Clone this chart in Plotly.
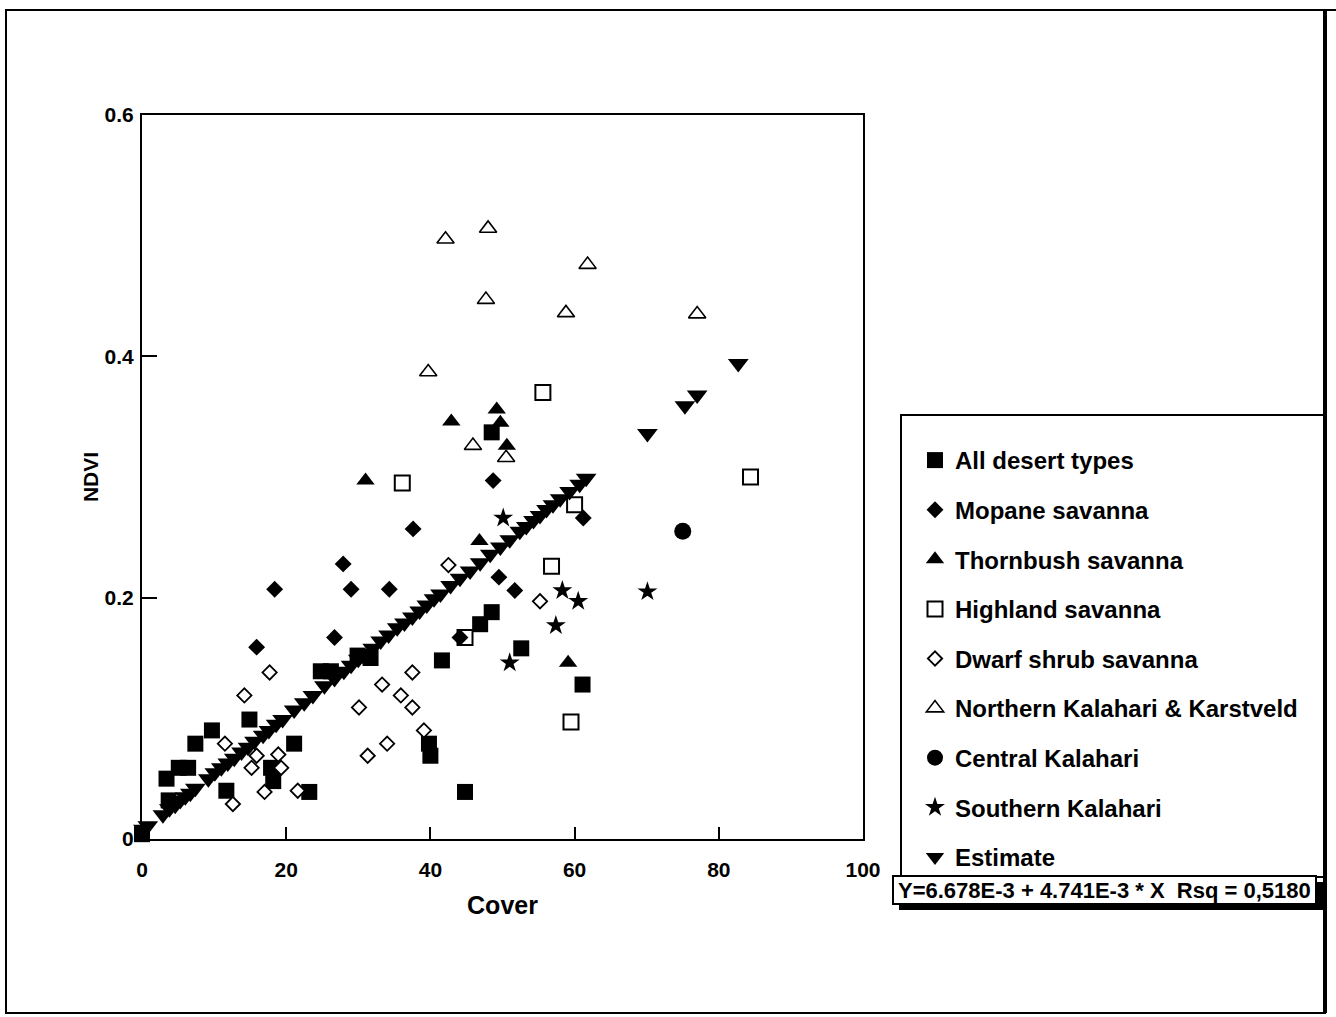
import plotly.graph_objects as go

# ---------------- data ----------------
desert_x = [0.0, 3.4, 3.7, 5.1, 6.4, 7.4, 9.7, 14.9, 11.7, 17.9, 18.2, 21.1, 23.2,
            24.8, 26.2, 29.9, 31.7, 41.6, 39.8, 40.0, 44.8, 46.9, 48.5, 48.5, 52.6, 61.1]
desert_y = [0.004, 0.050, 0.032, 0.059, 0.059, 0.079, 0.090, 0.099, 0.040, 0.059, 0.048, 0.079, 0.039,
            0.139, 0.139, 0.152, 0.150, 0.148, 0.079, 0.069, 0.039, 0.178, 0.188, 0.337, 0.158, 0.128]

mopane_x = [18.4, 29.0, 34.3, 27.9, 15.9, 26.7, 44.1, 48.7, 37.6, 49.5, 51.7, 61.2]
mopane_y = [0.207, 0.207, 0.207, 0.228, 0.159, 0.167, 0.167, 0.297, 0.257, 0.217, 0.206, 0.266]

thorn_x = [31.0, 42.9, 49.2, 49.7, 50.6, 46.8, 59.1]
thorn_y = [0.297, 0.346, 0.356, 0.345, 0.326, 0.247, 0.146]

highland_x = [36.1, 55.6, 84.4, 60.0, 56.8, 44.8, 59.5]
highland_y = [0.295, 0.370, 0.300, 0.277, 0.226, 0.167, 0.097]

dwarf_x = [17.7, 14.2, 11.5, 15.9, 15.2, 18.9, 19.3, 12.6, 17.0, 21.6,
           37.5, 33.3, 30.1, 35.9, 37.5, 39.1, 34.0, 31.3, 42.5, 55.2]
dwarf_y = [0.138, 0.119, 0.079, 0.069, 0.059, 0.070, 0.059, 0.029, 0.039, 0.040,
           0.138, 0.128, 0.109, 0.119, 0.109, 0.090, 0.079, 0.069, 0.227, 0.197]

north_x = [42.1, 48.0, 61.8, 47.7, 58.8, 77.0, 39.7, 45.9, 50.5]
north_y = [0.497, 0.506, 0.476, 0.447, 0.436, 0.435, 0.387, 0.326, 0.316]

central_x = [75.0]
central_y = [0.255]

south_x = [50.1, 58.3, 60.5, 70.1, 57.4, 51.0]
south_y = [0.266, 0.206, 0.197, 0.205, 0.177, 0.146]

est_x = [0.2, 0.8, 2.9, 3.8, 4.6, 5.3, 6.0, 6.7, 7.4, 9.2, 10.1, 11.0, 11.9, 12.8, 13.8,
         14.7, 15.6, 16.8, 17.6, 18.6, 19.5, 21.1, 22.5, 23.7, 25.3, 26.7, 28.0, 29.0,
         30.0, 31.0, 32.0, 33.1, 34.2, 35.4, 36.4, 37.5, 38.5, 39.5, 40.5, 41.4, 42.8,
         44.1, 45.5, 46.9, 48.3, 49.7, 51.0, 52.4, 53.3, 54.3, 55.2, 56.1, 57.0, 58.0,
         59.3, 60.7, 61.6, 70.1, 75.3, 77.0, 82.7]
est_y = [0.008, 0.011, 0.020, 0.025, 0.028, 0.032, 0.035, 0.038, 0.042, 0.050, 0.055, 0.059,
         0.063, 0.067, 0.072, 0.076, 0.081, 0.086, 0.090, 0.095, 0.099, 0.107, 0.113, 0.119,
         0.127, 0.133, 0.139, 0.144, 0.149, 0.154, 0.158, 0.164, 0.169, 0.175, 0.179, 0.184,
         0.189, 0.194, 0.199, 0.203, 0.210, 0.216, 0.222, 0.229, 0.236, 0.242, 0.248, 0.255,
         0.259, 0.264, 0.268, 0.273, 0.277, 0.282, 0.288, 0.294, 0.299, 0.336, 0.359, 0.368,
         0.394]

x_ticks = [0, 20, 40, 60, 80, 100]
y_ticks = [0, 0.2, 0.4, 0.6]
fit_text = "Y=6.678E-3 + 4.741E-3 * X &nbsp;Rsq = 0,5180"

# ---------------- layout geometry ----------------
W, H = 1336, 1017
L, R, T, B = 142, 473, 115, 178
PW = W - L - R
PH = H - T - B


def px(xp):
    return (xp - L) / PW


def py(yp):
    return (H - B - yp) / PH


FONT = "Liberation Sans, Arial, sans-serif"

fig = go.Figure()


def add(name, xs, ys, symbol, size, color, lw, lc, rank):
    fig.add_trace(go.Scatter(
        x=xs, y=ys, mode="markers", name=name,
        legendgroup=name, legendrank=rank,
        marker=dict(symbol=symbol, size=size, color=color,
                    line=dict(width=lw, color=lc)),
        cliponaxis=False,
    ))


# drawing order (legend order fixed by legendrank)
add("Highland savanna", highland_x, highland_y, "square", 15, "white", 2, "black", 4)
add("All desert types", desert_x, desert_y, "square", 16, "black", 0, "black", 1)
add("Mopane savanna", mopane_x, mopane_y, "diamond", 13, "black", 0, "black", 2)
add("Thornbush savanna", thorn_x, thorn_y, "triangle-up", 16, "black", 0, "black", 3)
add("Northern Kalahari & Karstveld", north_x, north_y, "triangle-up", 15, "white", 1.6, "black", 6)
add("Central Kalahari", central_x, central_y, "circle", 17, "black", 0, "black", 7)
add("Southern Kalahari", south_x, south_y, "star", 15, "black", 0, "black", 8)
add("Estimate", est_x, est_y, "triangle-down", 18, "black", 0, "black", 9)
add("Dwarf shrub savanna", dwarf_x, dwarf_y, "diamond", 11, "white", 1.8, "black", 5)

shapes = []
# outer page frame
shapes.append(dict(type="rect", xref="paper", yref="paper",
                   x0=px(6), x1=px(1325), y0=py(1013), y1=py(10),
                   line=dict(color="black", width=2)))
shapes.append(dict(type="line", xref="paper", yref="paper",
                   x0=px(1325), x1=px(1336), y0=py(10), y1=py(10),
                   line=dict(color="black", width=2)))
shapes.append(dict(type="line", xref="paper", yref="paper",
                   x0=px(1325), x1=px(1325), y0=py(1013), y1=py(10),
                   line=dict(color="black", width=4)))
# legend box
shapes.append(dict(type="rect", xref="paper", yref="paper",
                   x0=px(901), x1=px(1325), y0=py(877), y1=py(415),
                   line=dict(color="black", width=2)))
# regression text box with drop shadow
shapes.append(dict(type="rect", xref="paper", yref="paper",
                   x0=px(899), x1=px(1323), y0=py(910), y1=py(882),
                   fillcolor="black", line=dict(width=0)))
shapes.append(dict(type="rect", xref="paper", yref="paper",
                   x0=px(893), x1=px(1316), y0=py(904), y1=py(876),
                   fillcolor="white", line=dict(color="black", width=2)))

annotations = [dict(
    xref="paper", yref="paper", x=px(1104.5), y=py(890),
    text=fit_text, showarrow=False, xanchor="center", yanchor="middle",
    font=dict(family=FONT, size=22, color="black", weight="bold"),
)]

fig.update_layout(
    width=W, height=H,
    margin=dict(l=L, r=R, t=T, b=B, autoexpand=False),
    paper_bgcolor="white", plot_bgcolor="white",
    font=dict(family=FONT, color="black"),
    showlegend=True,
    legend=dict(
        x=px(915), y=py(438), xanchor="left", yanchor="top",
        bgcolor="rgba(0,0,0,0)", borderwidth=0,
        traceorder="grouped", tracegroupgap=15.4,
        font=dict(family=FONT, size=24, color="black", weight="bold"),
    ),
    shapes=shapes,
    annotations=annotations,
    xaxis=dict(
        range=[0, 100], tickvals=x_ticks, ticks="inside", ticklen=12, tickwidth=2,
        tickcolor="black", showline=True, linecolor="black", linewidth=2, mirror=True,
        showgrid=False, zeroline=False, ticklabelstandoff=11,
        tickfont=dict(family=FONT, size=21, color="black", weight="bold"),
        title=dict(text="Cover", standoff=16,
                   font=dict(family=FONT, size=25, color="black", weight="bold")),
    ),
    yaxis=dict(
        range=[0, 0.6], tickvals=y_ticks, ticks="inside", ticklen=15, tickwidth=2,
        tickcolor="black", showline=True, linecolor="black", linewidth=2, mirror=True,
        showgrid=False, zeroline=False, ticklabelstandoff=2,
        tickfont=dict(family=FONT, size=21, color="black", weight="bold"),
        title=dict(text="NDVI", standoff=0,
                   font=dict(family=FONT, size=21, color="black", weight="bold")),
    ),
)

fig.write_html(
    "out.html",
    config={"displayModeBar": False},
    post_script="document.body.style.margin='0';document.body.style.overflow='hidden';",
)
